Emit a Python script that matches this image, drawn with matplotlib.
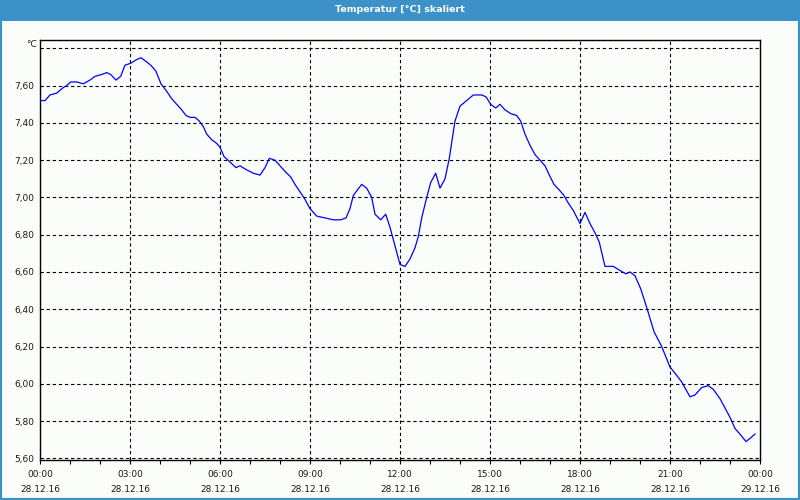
import matplotlib
matplotlib.use("Agg")
import matplotlib.pyplot as plt
from matplotlib.patches import Rectangle
from matplotlib.ticker import MultipleLocator, FixedLocator

# ---- data (hours since 28.12.16 00:00, temperature in °C) ----
hours = [0.0, 0.167, 0.333, 0.557, 0.777, 0.89, 1.023, 1.223, 1.443, 1.667, 1.833,
         2.057, 2.223, 2.357, 2.533, 2.69, 2.833, 3.023, 3.223, 3.367, 3.533, 3.69,
         3.857, 4.033, 4.223, 4.39, 4.557, 4.723, 4.867, 5.0, 5.167, 5.31, 5.443,
         5.557, 5.723, 5.89, 6.0, 6.133, 6.333, 6.533, 6.667, 6.867, 7.11, 7.333,
         7.5, 7.643, 7.833, 7.943, 8.167, 8.357, 8.5, 8.667, 8.833, 9.0, 9.223, 9.5,
         9.777, 10.023, 10.2, 10.333, 10.443, 10.577, 10.723, 10.89, 11.057, 11.167,
         11.357, 11.523, 11.667, 11.8, 12.0, 12.167, 12.333, 12.5, 12.61, 12.723,
         12.89, 13.023, 13.19, 13.333, 13.5, 13.643, 13.757, 13.833, 14.0, 14.223,
         14.443, 14.723, 14.867, 15.023, 15.19, 15.333, 15.5, 15.69, 15.89, 16.023,
         16.167, 16.333, 16.5, 16.667, 16.833, 16.977, 17.133, 17.31, 17.467, 17.61,
         17.777, 18.0, 18.167, 18.333, 18.5, 18.643, 18.833, 19.11, 19.31, 19.533,
         19.667, 19.833, 20.023, 20.223, 20.467, 20.723, 21.0, 21.2, 21.39, 21.667,
         21.833, 22.057, 22.277, 22.443, 22.667, 22.833, 23.0, 23.167, 23.333,
         23.533, 23.69, 23.833]
temps = [7.52, 7.52, 7.55, 7.56, 7.59, 7.60, 7.62, 7.62, 7.61, 7.63, 7.65,
         7.66, 7.67, 7.66, 7.63, 7.65, 7.71, 7.72, 7.74, 7.75, 7.73, 7.71,
         7.68, 7.61, 7.57, 7.53, 7.50, 7.47, 7.44, 7.43, 7.43, 7.41, 7.38,
         7.34, 7.31, 7.29, 7.27, 7.22, 7.19, 7.16, 7.17, 7.15, 7.13, 7.12,
         7.16, 7.21, 7.20, 7.18, 7.14, 7.11, 7.07, 7.03, 6.99, 6.94, 6.90, 6.89,
         6.88, 6.88, 6.89, 6.94, 7.01, 7.04, 7.07, 7.05, 7.00, 6.91,
         6.88, 6.91, 6.84, 6.76, 6.64, 6.63, 6.67, 6.73, 6.79, 6.89,
         7.00, 7.08, 7.13, 7.05, 7.10, 7.21, 7.33, 7.41, 7.49, 7.52,
         7.55, 7.55, 7.54, 7.50, 7.48, 7.50, 7.47, 7.45, 7.44, 7.41,
         7.34, 7.28, 7.23, 7.20, 7.17, 7.12, 7.07, 7.04, 7.01, 6.97,
         6.93, 6.86, 6.92, 6.86, 6.81, 6.76, 6.63, 6.63, 6.61, 6.59,
         6.60, 6.58, 6.51, 6.41, 6.28, 6.20, 6.09, 6.05, 6.01, 5.93,
         5.94, 5.98, 5.99, 5.97, 5.92, 5.87, 5.82, 5.76, 5.73,
         5.69, 5.71, 5.73]

x_tick_hours = [0, 3, 6, 9, 12, 15, 18, 21, 24]
x_tick_times = ["00:00", "03:00", "06:00", "09:00", "12:00", "15:00", "18:00", "21:00", "00:00"]
x_tick_dates = ["28.12.16"] * 8 + ["29.12.16"]
y_ticks = [5.60, 5.80, 6.00, 6.20, 6.40, 6.60, 6.80, 7.00, 7.20, 7.40, 7.60]
y_grid = y_ticks + [7.80]
title = "Temperatur [°C] skaliert"
unit = "°C"

BLUE_BAR = "#3c92c8"
BG = "#fbfdfb"
TXT = "#1a1a1a"

plt.rcParams['font.family'] = ['DejaVu Sans']

fig = plt.figure(figsize=(8, 5), dpi=100, facecolor=BG)
ax = fig.add_axes([40 / 800, 1 - 460 / 500, 720 / 800, 420 / 500])
ax.set_facecolor(BG)

ax.plot(hours, temps, color="#0000ff", lw=0.9, zorder=3)

ax.set_xlim(0, 24)
ax.set_ylim(5.591, 7.845)

# grid
for y in y_grid:
    ax.axhline(y, color="black", lw=0.8, dashes=(3, 2.5), zorder=1)
for h in x_tick_hours[1:-1]:
    ax.axvline(h, color="black", lw=0.8, dashes=(3, 2.5), zorder=1)

for sp in ax.spines.values():
    sp.set_color("black")
    sp.set_linewidth(1.0)

# x ticks
ax.xaxis.set_major_locator(FixedLocator(x_tick_hours))
ax.xaxis.set_minor_locator(MultipleLocator(1))
ax.set_xticklabels([f"{t}\n{d}" for t, d in zip(x_tick_times, x_tick_dates)],
                   linespacing=1.9)
ax.tick_params(axis="x", which="both", direction="out", length=3, width=0.8,
               color="black", labelsize=6.5, labelcolor=TXT, pad=4)

# y ticks
ax.set_yticks(y_ticks)
ax.set_yticklabels([f"{v:.2f}".replace(".", ",") for v in y_ticks])
ax.tick_params(axis="y", which="both", length=0, labelsize=6.5, labelcolor=TXT, pad=4)

ax.text(-0.004, 1.0, unit, transform=ax.transAxes, ha="right", va="top",
        fontsize=6.5, color=TXT)

# title bar
fig.patches.append(Rectangle((0, 1 - 21 / 500), 1, 21 / 500, transform=fig.transFigure,
                             facecolor=BLUE_BAR, edgecolor="none", zorder=0))
fig.text(0.5, 1 - 10 / 500, title, ha="center", va="center", color="white",
         fontsize=6.8, fontweight="bold")
# window border
fig.patches.append(Rectangle((0, 0), 1, 1, transform=fig.transFigure,
                             facecolor="none", edgecolor=BLUE_BAR, lw=3, zorder=5))

fig.savefig("out.png", dpi=100, facecolor=BG)
